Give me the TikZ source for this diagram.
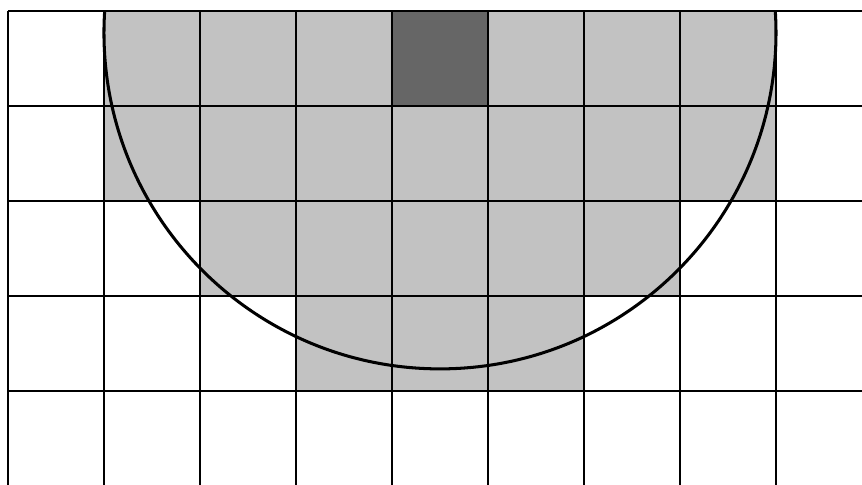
\documentclass[tikz,border=0pt]{standalone}
\usepackage{tikz}

\begin{document}
\begin{tikzpicture}[
x=2cm, y=-1.979cm,
cellfill/.style={fill=black!24},
seedfill/.style={fill=black!60},
gridline/.style={line width=1.4pt},
rim/.style={line width=1.8pt}
]
\useasboundingbox (-0.083,-0.116) rectangle (8.896,4.989);
\coordinate (ctr) at (4.5,0.23);

% shaded cells, row by row
\foreach \r/\a/\b in {0/1/7, 1/1/7, 2/2/6, 3/3/5}
  \foreach \c in {\a,...,\b}
    \fill[cellfill] (\c,\r) rectangle ++(1,1);
\fill[seedfill] (4,0) rectangle (5,1);

% grid
\foreach \c in {0,...,8}
  \draw[gridline] (\c,0) -- (\c,4.989);
\foreach \r in {0,...,4}
  \draw[gridline] (0,\r) -- (8.896,\r);

% profile
\begin{scope}
\clip (0,0) rectangle (8.896,4.989);
\draw[rim] (ctr) circle[radius=7cm];
\end{scope}
\end{tikzpicture}
\end{document}
